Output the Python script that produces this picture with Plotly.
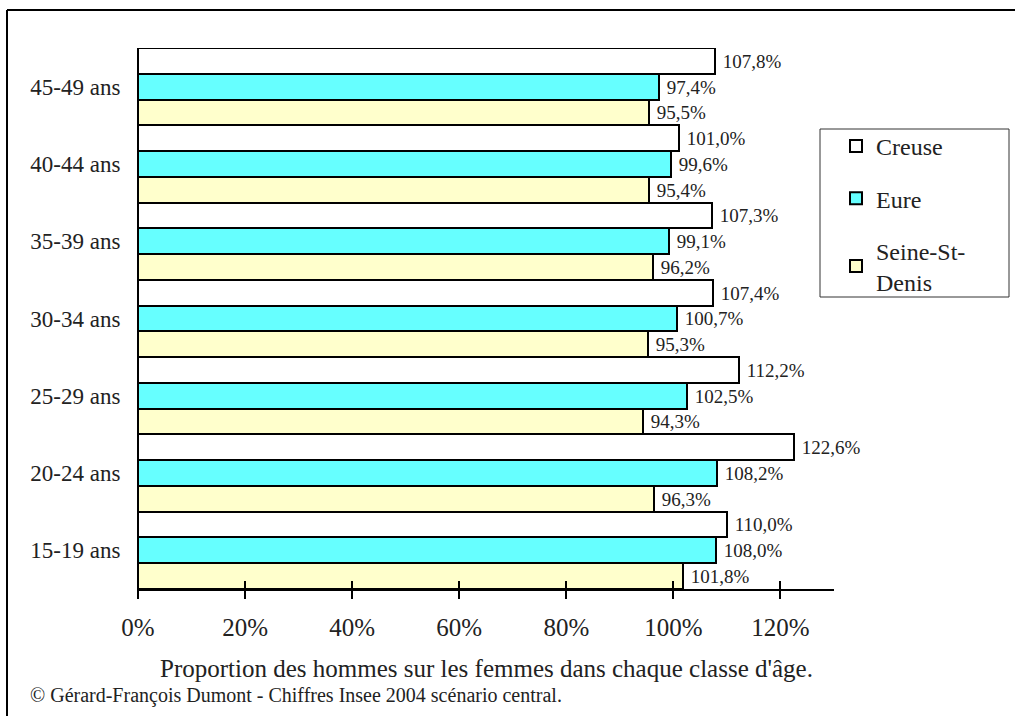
import plotly.graph_objects as go

# Age classes, bottom to top
ages = ["15-19 ans", "20-24 ans", "25-29 ans", "30-34 ans",
        "35-39 ans", "40-44 ans", "45-49 ans"]

# Men per 100 women (%) in each age class
creuse = [110.0, 122.6, 112.2, 107.4, 107.3, 101.0, 107.8]
eure = [108.0, 108.2, 102.5, 100.7, 99.1, 99.6, 97.4]
seine_st_denis = [101.8, 96.3, 94.3, 95.3, 96.2, 95.4, 95.5]

x_ticks = [0, 20, 40, 60, 80, 100, 120]
x_tick_text = [f"{v}%" for v in x_ticks]

series = [
    ("Creuse", creuse, "#FFFFFF"),
    ("Eure", eure, "#66FFFF"),
    ("Seine-St-<br>Denis", seine_st_denis, "#FFFFCC"),
]

SERIF = "Liberation Serif, Times New Roman, serif"

# Page geometry (px)
W, H = 1015, 716
L, R, T, B = 138, 181, 48, 127
PW, PH = W - L - R, H - T - B


def px_x(x):
    return (x - L) / PW


def px_y(y):
    return (H - B - y) / PH


def fr(v):
    return "\u00a0" + f"{v:.1f}".replace(".", ",") + "%"


fig = go.Figure()
for i, (name, vals, color) in enumerate(series):
    fig.add_trace(go.Bar(
        y=ages, x=vals, orientation="h", name=name,
        marker=dict(color=color, line=dict(color="black", width=2)),
        text=[fr(v) for v in vals], textposition="outside",
        textfont=dict(family=SERIF, size=19, color="#222"),
        constraintext="none", cliponaxis=False,
        legendgroup=f"g{i}",
    ))

fig.update_layout(
    width=W, height=H,
    margin=dict(l=L, r=R, t=T, b=B),
    paper_bgcolor="white", plot_bgcolor="white",
    barmode="group", bargap=0, bargroupgap=0,
    font=dict(family=SERIF, color="#222"),
    showlegend=True,
    legend=dict(
        x=px_x(836), y=px_y(124), xanchor="left", yanchor="top",
        borderwidth=0, bgcolor="rgba(0,0,0,0)",
        font=dict(family=SERIF, size=24, color="#222"),
        traceorder="grouped", tracegroupgap=18,
        itemclick=False, itemdoubleclick=False,
    ),
    xaxis=dict(
        range=[0, 130], tickvals=x_ticks, ticktext=x_tick_text,
        showline=True, linecolor="black", linewidth=1.5,
        ticks="outside", ticklen=8, tickwidth=1.5, tickcolor="black",
        showgrid=False, zeroline=False,
        tickfont=dict(family=SERIF, size=25, color="#222"),
        ticklabelstandoff=7,
    ),
    xaxis2=dict(
        overlaying="x", matches="x", anchor="y", side="bottom",
        range=[0, 130], tickvals=x_ticks,
        ticks="inside", ticklen=8, tickwidth=1.5, tickcolor="black",
        showticklabels=False, showline=False, showgrid=False, zeroline=False,
    ),
    yaxis=dict(
        categoryorder="array", categoryarray=ages[::-1], autorange="reversed",
        showline=True, linecolor="black", linewidth=1,
        ticks="outside", ticklen=12, tickcolor="rgba(0,0,0,0)",
        showgrid=False, zeroline=False,
        tickfont=dict(family=SERIF, size=23, color="#222"),
    ),
    annotations=[
        dict(text="Proportion des hommes sur les femmes dans chaque classe d'âge.",
             xref="paper", yref="paper", x=0.5, y=px_y(668),
             xanchor="center", yanchor="middle", showarrow=False,
             font=dict(family=SERIF, size=25, color="#222")),
        dict(text="© Gérard-François Dumont - Chiffres Insee 2004 scénario central.",
             xref="paper", yref="paper", x=px_x(28), y=px_y(695),
             xanchor="left", yanchor="middle", showarrow=False,
             font=dict(family=SERIF, size=20, color="#222")),
    ],
    shapes=[
        # page frame (left and top edges)
        dict(type="line", xref="paper", yref="paper",
             x0=px_x(7), x1=px_x(W + 5), y0=px_y(10), y1=px_y(10),
             line=dict(color="black", width=2)),
        dict(type="line", xref="paper", yref="paper",
             x0=px_x(7), x1=px_x(7), y0=px_y(10), y1=px_y(H + 5),
             line=dict(color="black", width=2)),
        # legend frame
        dict(type="rect", xref="paper", yref="paper",
             x0=px_x(820), x1=px_x(1009), y0=px_y(129), y1=px_y(297),
             line=dict(color="#333", width=1), fillcolor="rgba(0,0,0,0)"),
    ],
)

# invisible trace so the overlay axis carrying the upper tick marks is drawn
fig.add_trace(go.Scatter(x=[0], y=[ages[0]], xaxis="x2", mode="markers",
                         marker=dict(opacity=0), showlegend=False,
                         hoverinfo="skip"))

fig.write_html("out.html")
